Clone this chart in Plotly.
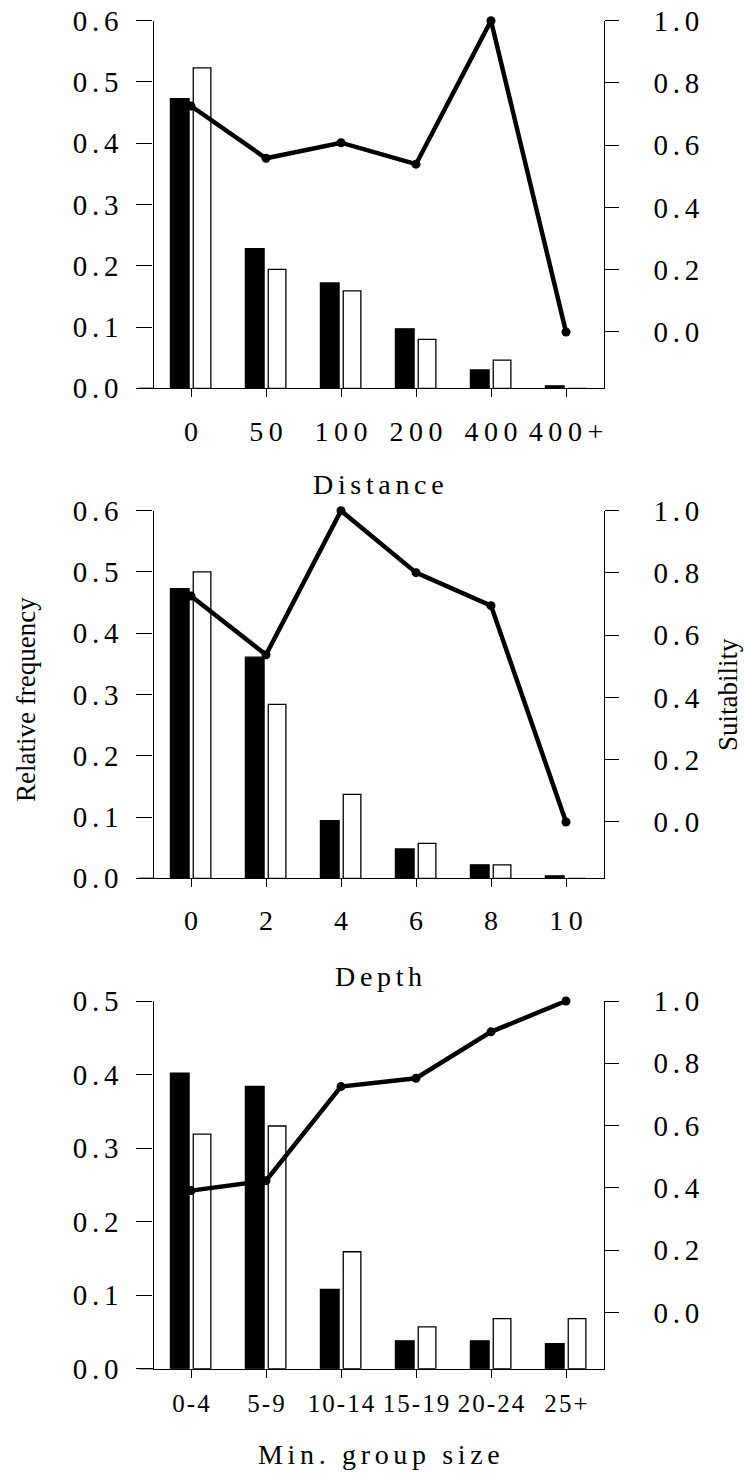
import plotly.graph_objects as go

# ---- data -------------------------------------------------------------
distance_cats = ["0", "50", "100", "200", "400", "400+"]
distance_used = [0.473, 0.228, 0.172, 0.097, 0.030, 0.004]
distance_avail = [0.523, 0.194, 0.159, 0.080, 0.046, 0.0]
distance_suit = [0.726, 0.558, 0.608, 0.539, 1.0, 0.0]

depth_cats = ["0", "2", "4", "6", "8", "10"]
depth_used = [0.473, 0.361, 0.094, 0.048, 0.022, 0.004]
depth_avail = [0.500, 0.284, 0.137, 0.057, 0.022, 0.0]
depth_suit = [0.726, 0.537, 1.0, 0.801, 0.695, 0.0]

group_cats = ["0-4", "5-9", "10-14", "15-19", "20-24", "25+"]
group_used = [0.402, 0.384, 0.108, 0.038, 0.038, 0.034]
group_avail = [0.319, 0.330, 0.159, 0.057, 0.068, 0.068]
group_suit = [0.391, 0.423, 0.725, 0.752, 0.901, 1.0]

freq_ticks_06 = [0.0, 0.1, 0.2, 0.3, 0.4, 0.5, 0.6]
freq_ticks_05 = [0.0, 0.1, 0.2, 0.3, 0.4, 0.5]
suit_ticks = [0.0, 0.2, 0.4, 0.6, 0.8, 1.0]

# ---- layout constants -------------------------------------------------
W, H = 744, 1475
FONT = "Liberation Serif"
SIX = "\u2006"   # six-per-em space, used for the wide letter spacing
THIN = "\u2009"
HAIR = "\u200a"


def spaced(text, sep):
    return sep.join(list(text))


def px_y(y):
    return (H - y) / H


x_dom = [153.5 / W, 603.5 / W]
panels = [
    dict(cats=distance_cats, used=distance_used, avail=distance_avail,
         suit=distance_suit, top=20.7, bot=388.3, fmax=0.6, fticks=freq_ticks_06,
         title="Distance", title_y=484, xfont=28, xsep=THIN, xstand=10),
    dict(cats=depth_cats, used=depth_used, avail=depth_avail,
         suit=depth_suit, top=510.7, bot=878.3, fmax=0.6, fticks=freq_ticks_06,
         title="Depth", title_y=976, xfont=28, xsep=THIN, xstand=9),
    dict(cats=group_cats, used=group_used, avail=group_avail,
         suit=group_suit, top=1001.0, bot=1368.7, fmax=0.5, fticks=freq_ticks_05,
         title="Min. group size", title_y=1454.5, xfont=25, xsep=HAIR, xstand=4),
]

fig = go.Figure()
layout = dict(
    template="none",
    width=W, height=H,
    margin=dict(l=0, r=0, t=0, b=0, pad=0, autoexpand=False),
    paper_bgcolor="white", plot_bgcolor="white",
    showlegend=False, barmode="overlay",
    font=dict(family=FONT, color="black"),
)
shapes = []
annotations = []

for i, p in enumerate(panels):
    n = i + 1
    xa = "x" if n == 1 else f"x{n}"
    yl = "y" if n == 1 else f"y{2 * n - 1}"
    yr = f"y{2 * n}"
    y_dom = [px_y(p["bot"]), px_y(p["top"])]

    fig.add_trace(go.Bar(
        x=p["cats"], y=p["used"], xaxis=xa, yaxis=yl,
        width=0.25, offset=-0.275,
        marker=dict(color="black", line=dict(color="black", width=1.2)),
    ))
    fig.add_trace(go.Bar(
        x=p["cats"], y=p["avail"], xaxis=xa, yaxis=yl,
        width=0.235, offset=0.03,
        marker=dict(color="white", line=dict(color="black", width=1.3)),
    ))
    fig.add_trace(go.Scatter(
        x=p["cats"], y=p["suit"], xaxis=xa, yaxis=yr,
        mode="lines+markers",
        line=dict(color="black", width=4.5),
        marker=dict(color="black", size=9),
        cliponaxis=False,
    ))

    xkey = "xaxis" if n == 1 else f"xaxis{n}"
    ylkey = "yaxis" if n == 1 else f"yaxis{2 * n - 1}"
    yrkey = f"yaxis{2 * n}"

    layout[xkey] = dict(
        domain=x_dom, anchor=yl, type="category", automargin=False,
        categoryorder="array", categoryarray=p["cats"],
        range=[-0.5, 5.5], fixedrange=True,
        showline=True, linecolor="black", linewidth=1.3,
        ticks="outside", ticklen=8, tickwidth=1.3, tickcolor="black",
        tickvals=p["cats"], ticktext=[spaced(c, p["xsep"]) for c in p["cats"]],
        tickfont=dict(family=FONT, size=p["xfont"], color="black"),
        ticklabelstandoff=p["xstand"],
        showgrid=False, zeroline=False,
    )
    layout[ylkey] = dict(
        domain=y_dom, anchor=xa, range=[0, p["fmax"]], automargin=False,
        showline=True, linecolor="black", linewidth=1.3,
        ticks="outside", ticklen=16, tickwidth=1.3, tickcolor="black",
        tickvals=p["fticks"], ticktext=[spaced(f"{v:.1f}", SIX) for v in p["fticks"]],
        tickfont=dict(family=FONT, size=29, color="black"),
        ticklabelstandoff=12,
        showgrid=False, zeroline=False,
    )
    layout[yrkey] = dict(
        overlaying=yl, side="right", anchor=xa, range=[-0.181, 1.0],
        automargin=False,
        showline=True, linecolor="black", linewidth=1.3,
        ticks="outside", ticklen=14, tickwidth=1.3, tickcolor="black",
        tickvals=suit_ticks, ticktext=[spaced(f"{v:.1f}", SIX) for v in suit_ticks],
        tickfont=dict(family=FONT, size=29, color="black"),
        ticklabelstandoff=29,
        showgrid=False, zeroline=False,
    )

    # the baseline runs out to the end of the left tick marks
    shapes.append(dict(
        type="line", xref="paper", yref="paper",
        x0=139 / W, x1=x_dom[0], y0=y_dom[0], y1=y_dom[0],
        line=dict(color="black", width=1.3),
    ))

    title_text = (SIX + " " + SIX).join(spaced(w, SIX) for w in p["title"].split(" "))
    annotations.append(dict(
        text=title_text, xref="paper", yref="paper",
        x=(x_dom[0] + x_dom[1]) / 2, y=px_y(p["title_y"]),
        xanchor="center", yanchor="middle", showarrow=False,
        font=dict(family=FONT, size=28, color="black"),
    ))

annotations.append(dict(
    text="Relative frequency", xref="paper", yref="paper",
    x=26 / W, y=px_y(700), textangle=-90,
    xanchor="center", yanchor="middle", showarrow=False,
    font=dict(family=FONT, size=27, color="black"),
))
annotations.append(dict(
    text="Suitability", xref="paper", yref="paper",
    x=728 / W, y=px_y(695), textangle=-90,
    xanchor="center", yanchor="middle", showarrow=False,
    font=dict(family=FONT, size=27, color="black"),
))

layout["shapes"] = shapes
layout["annotations"] = annotations
fig.update_layout(**layout)

fig.write_html("out.html")
